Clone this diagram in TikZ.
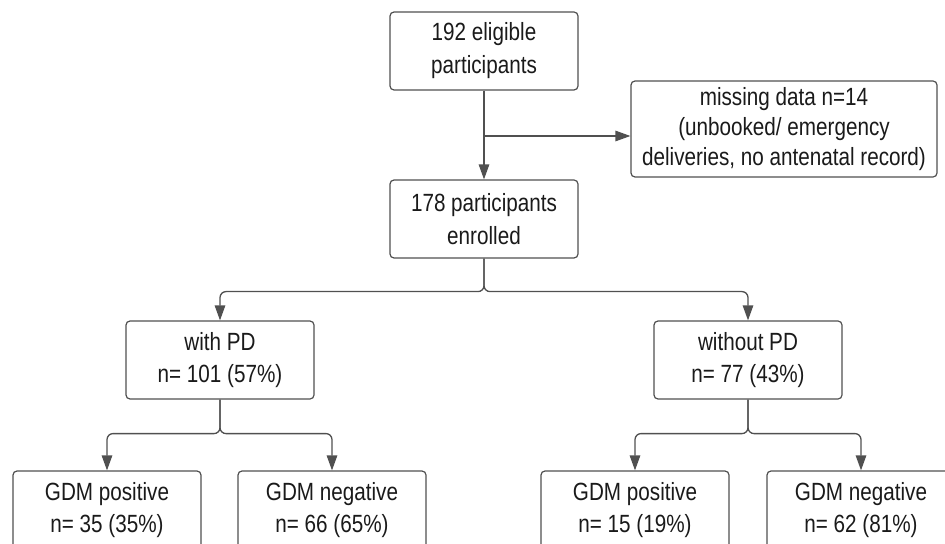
\documentclass[tikz,border=0pt]{standalone}
\usepackage{fontspec}
\setmainfont{Liberation Sans}[FakeStretch=0.83]
\usetikzlibrary{arrows.meta}
\definecolor{linegray}{HTML}{505050}
\definecolor{textblack}{HTML}{1A1A1A}
\begin{document}
\begin{tikzpicture}[
  x=1bp, y=-1bp,
  every node/.style={font=\fontsize{25}{33}\selectfont, text=textblack},
  box/.style={rectangle, rounded corners=4bp, draw=linegray, line width=1.2bp,
    minimum width=188bp, minimum height=78bp, inner sep=0pt, align=center},
  arr/.style={draw=linegray, line width=1.3bp, rounded corners=6bp,
    -{Triangle[length=15bp,width=10.5bp]}}
]
  \useasboundingbox (0,0) rectangle (945,544);
  \clip (0,0) rectangle (945,544);
  % top of the chart
  \node[box] (elig) at (484,51) {192 eligible\\participants};
  \node[box, minimum width=306bp, minimum height=96bp,
    font=\fontsize{25}{30}\selectfont] (miss) at (784,129)
    {missing data n=14\\(unbooked/ emergency\\deliveries, no antenatal record)};
  \node[box] (enrol) at (484,219) {178 participants\\enrolled};
  % groups
  \node[box] (withpd) at (220,360) {with PD\\n= 101 (57\%)};
  \node[box] (nopd) at (748,360) {without PD\\n= 77 (43\%)};
  % outcomes
  \node[box] (wpos) at (107,510) {GDM positive\\n= 35 (35\%)};
  \node[box] (wneg) at (332,510) {GDM negative\\n= 66 (65\%)};
  \node[box] (npos) at (635,510) {GDM positive\\n= 15 (19\%)};
  \node[box] (nneg) at (861,510) {GDM negative\\n= 62 (81\%)};

  \coordinate (split) at (484,136);
  \draw[arr] (elig) -- (enrol);
  \draw[arr] (split) -- (split -| miss.west);

  \draw[arr] (enrol.south) -- ++(0,33) -| (withpd.north);
  \draw[arr] (enrol.south) -- ++(0,33) -| (nopd.north);
  \draw[arr] (withpd.south) -- ++(0,34) -| (wpos.north);
  \draw[arr] (withpd.south) -- ++(0,34) -| (wneg.north);
  \draw[arr] (nopd.south) -- ++(0,34) -| (npos.north);
  \draw[arr] (nopd.south) -- ++(0,34) -| (nneg.north);
\end{tikzpicture}
\end{document}
